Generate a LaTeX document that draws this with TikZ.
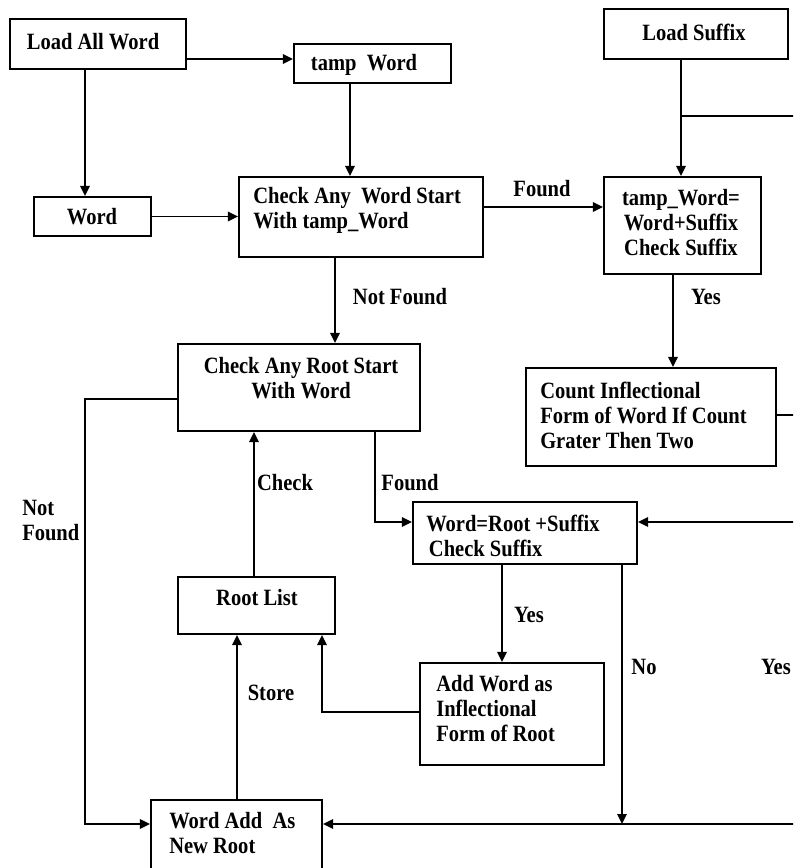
\documentclass[tikz,border=0pt]{standalone}
\usepackage{fontspec}
\setmainfont{Liberation Serif}[FakeStretch=0.88]
\usetikzlibrary{arrows.meta}
\newcommand\dfont{\fontsize{17.5pt}{18.75pt}\selectfont\bfseries}
\begin{document}
\begin{tikzpicture}[x=0.75pt,y=-0.75pt,
  ln/.style={line width=1.4pt},
  arr/.style={ln,-{Triangle[length=7.5pt,width=7pt]}},
  box/.style={draw,line width=1.6pt,inner sep=0pt,rectangle},
  bx/.style 2 args={minimum width=#1*0.75pt,minimum height=#2*0.75pt},
  txt/.style={inner sep=0pt,font=\dfont},
]
\useasboundingbox (0,0) rectangle (793,868);
\clip (0,0) rectangle (793,868);
\fill[white] (0,0) rectangle (793,868);

% boxes
\node[box,bx={176}{50}]  (law) at (98,44) {};
\node[box,bx={157}{39}]  (tw)  at (372.5,63.5) {};
\node[box,bx={184}{50}]  (ls)  at (696,34) {};
\node[box,bx={117}{39}]  (wd)  at (92.5,216.5) {};
\node[box,bx={244}{80}]  (cw)  at (361,217) {};
\node[box,bx={157}{97}]  (ts)  at (682.5,225.5) {};
\node[box,bx={242}{87}]  (cr)  at (299,387.5) {};
\node[box,bx={250}{98}]  (ci)  at (651,417) {};
\node[box,bx={157}{57}]  (rl)  at (256.5,605.5) {};
\node[box,bx={224}{62}]  (wr)  at (525,533) {};
\node[box,bx={184}{102}] (aw)  at (512,714) {};
\node[box,bx={171}{80}]  (wa)  at (236.5,840) {};

% box texts
\node[txt] (lawT) at (93,42) {Load All Word};
\node[txt] (twT) at (364,65) {tamp\ \ Word};
\node[txt] (lsT) at (694,32) {Load Suffix};
\node[txt] (wdT) at (92,217) {Word};
\node[txt,anchor=west,align=left] (cwT) at (253,210.5) {Check Any\ \ Word Start\\With tamp\_Word};
\node[txt,align=center] (tsT) at (681,222.5) {tamp\_Word=\\Word+Suffix\\Check Suffix};
\node[txt,align=center] (crT) at (301,378) {Check Any\ Root Start\\With Word};
\node[txt,anchor=west,align=left] (ciT) at (540,415) {Count Inflectional\\Form of Word If Count\\Grater Then Two};
\node[txt] (rlT) at (257,598) {Root List};
\node[txt,anchor=west,align=left] (wrT) at (426,535.5) {Word=Root +Suffix\\\hspace{2pt}Check Suffix};
\node[txt,anchor=west,align=left] (awT) at (436,709) {Add Word as\\Inflectional\\Form of Root};
\node[txt,anchor=west,align=left] (waT) at (169,833.5) {Word Add\ \ As\\New Root};

% labels
\node[txt] (lbFound1) at (542,189) {Found};
\node[txt] (lbNF1) at (400,297) {Not Found};
\node[txt] (lbYes1) at (706,297) {Yes};
\node[txt,anchor=west,align=left] (lbNF2) at (22,520) {Not\\Found};
\node[txt] (lbCheck) at (285,483) {Check};
\node[txt] (lbFound2) at (410,483) {Found};
\node[txt] (lbYes2) at (529,615) {Yes};
\node[txt] (lbStore) at (271,693) {Store};
\node[txt] (lbNo) at (644,667) {No};
\node[txt] (lbYes3) at (776,667) {Yes};

% free ends at the right edge
\coordinate (jA) at (681,116);
\coordinate (eA) at (800,116);
\coordinate (eB) at (800,415);
\coordinate (eC) at (800,522);
\coordinate (eD) at (800,824);
\coordinate (jD) at (622,824);

% connectors
\draw[arr] (law.east |- 0,59) -- (tw.west |- 0,59);
\draw[arr] (law.south -| 85,0) -- (wd.north -| 85,0);
\draw[arr] (wd.east) -- (wd.east -| cw.west);
\draw[arr] (tw.south -| 350,0) -- (cw.north -| 350,0);
\draw[arr] (cw.east |- 0,207) -- (ts.west |- 0,207);
\draw[arr] (ls.south -| 681,0) -- (ts.north -| 681,0);
\draw[ln] (jA) -- (eA);
\draw[arr] (ts.south -| 673,0) -- (ci.north -| 673,0);
\draw[arr] (cw.south -| 335,0) -- (cr.north -| 335,0);
\draw[arr] (cr.west |- 0,399) -- (85,399) |- (wa.west |- 0,824);
\draw[arr] (rl.north -| 254,0) -- (cr.south -| 254,0);
\draw[arr] (cr.south -| 375,0) |- (wr.west |- 0,522);
\draw[arr] (eC) -- (wr.east |- eC);
\draw[ln] (ci.east |- eB) -- (eB);
\draw[arr] (wr.south -| 502,0) -- (aw.north -| 502,0);
\draw[arr] (wr.south -| 622,0) -- (jD);
\draw[arr] (eD) -- (wa.east |- eD);
\draw[arr] (aw.west |- 0,712) -| (rl.south -| 322,0);
\draw[arr] (wa.north -| 237,0) -- (rl.south -| 237,0);
\end{tikzpicture}
\end{document}
